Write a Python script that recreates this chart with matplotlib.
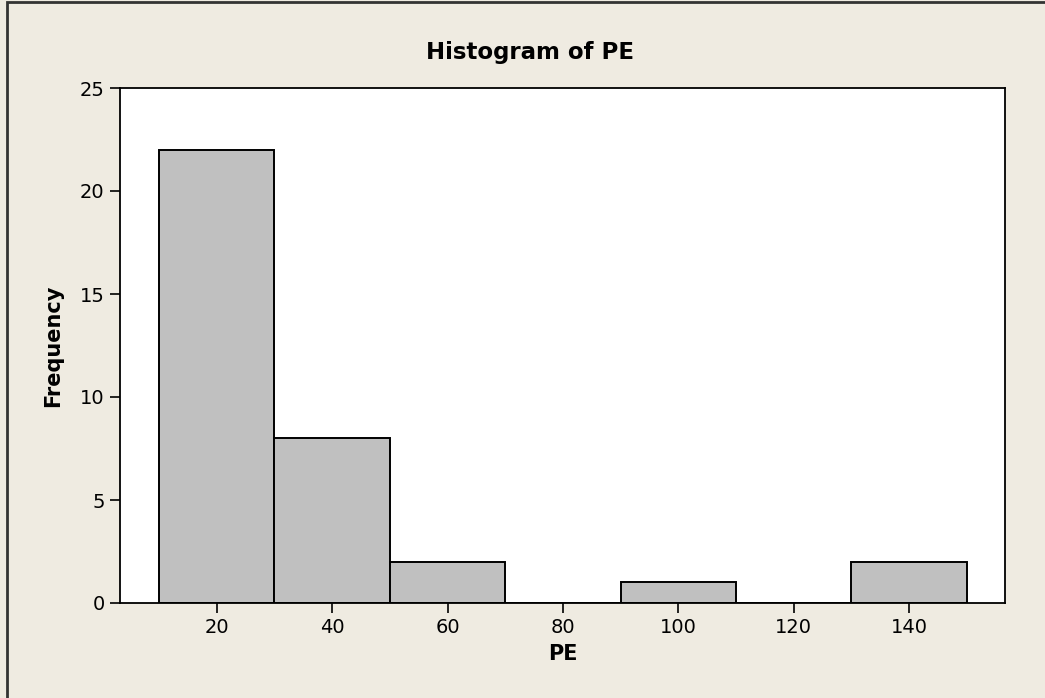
import matplotlib
matplotlib.use("Agg")
import matplotlib.pyplot as plt
from matplotlib.patches import Rectangle

bin_edges = [10, 30, 50, 70, 90, 110, 130, 150]
counts = [22, 8, 2, 0, 1, 0, 2]
x_ticks = [20, 40, 60, 80, 100, 120, 140]
y_ticks = [0, 5, 10, 15, 20, 25]

bg = "#EFEBE1"
fig = plt.figure(figsize=(10.45, 6.98), dpi=100, facecolor=bg)
W, H = 1045, 698
ax = fig.add_axes([120 / W, 1 - 603 / H, (1005 - 120) / W, (603 - 88) / H])
ax.set_facecolor("white")

lefts = bin_edges[:-1]
widths = [b - a for a, b in zip(bin_edges[:-1], bin_edges[1:])]
ax.bar(lefts, counts, width=widths, align="edge", color="#C0C0C0",
       edgecolor="black", linewidth=1.4, zorder=2)

ax.set_xlim(3.25, 156.6)
ax.set_ylim(0, 25)
ax.set_xticks(x_ticks)
ax.set_yticks(y_ticks)
ax.tick_params(direction="out", length=7, width=1.2, labelsize=14,
               pad=4, colors="black")
for s in ax.spines.values():
    s.set_linewidth(1.3)
    s.set_color("black")

ax.set_xlabel("PE", fontsize=15, fontweight="bold", labelpad=5)
ax.set_ylabel("Frequency", fontsize=15, fontweight="bold", labelpad=12)
fig.text(530 / W, 1 - 52 / H, "Histogram of PE", ha="center", va="center",
         fontsize=16.5, fontweight="bold")

frame = Rectangle((7 / W, -0.05), 1.1, 1 - 2 / H + 0.05, transform=fig.transFigure,
                  fill=False, edgecolor="#333333", linewidth=2, zorder=10)
fig.patches.append(frame)

fig.savefig("out.png", dpi=100, facecolor=bg)
